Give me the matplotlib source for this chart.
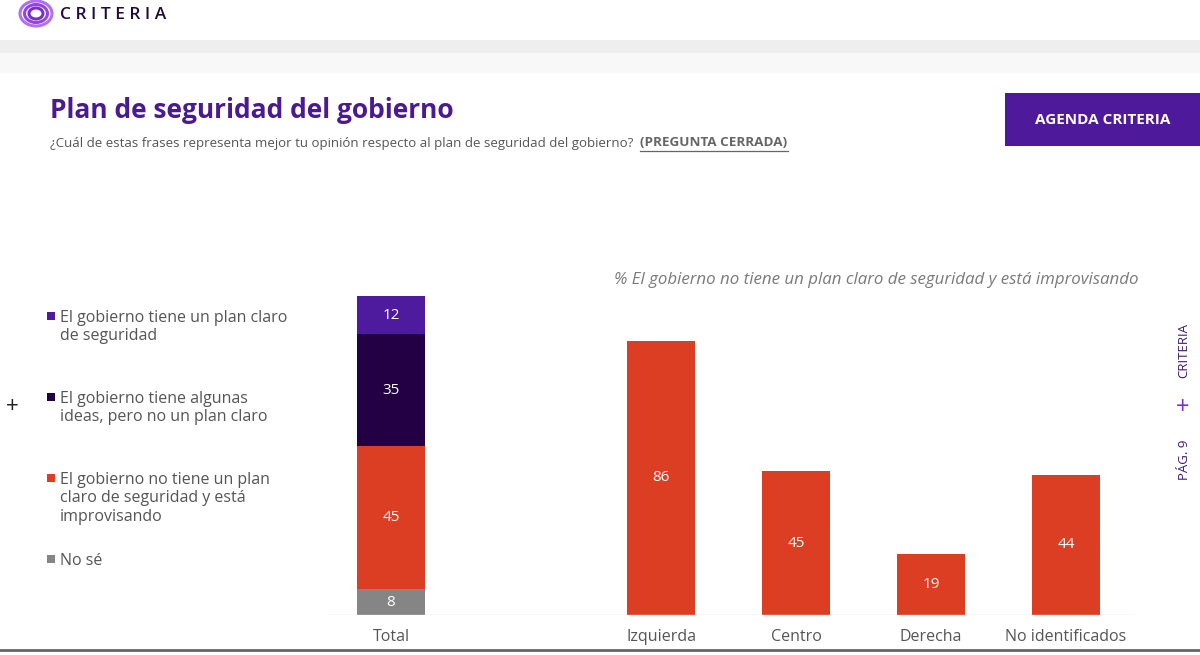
import matplotlib.pyplot as plt
from matplotlib.patches import Rectangle, Ellipse

plt.rcParams['font.family'] = ['Open Sans', 'DejaVu Sans']

# data
total_labels = ['El gobierno tiene un plan claro\nde seguridad',
                'El gobierno tiene algunas\nideas, pero no un plan claro',
                'El gobierno no tiene un plan\nclaro de seguridad y está\nimprovisando',
                'No sé']
total_values = [12, 35, 45, 8]          # top -> bottom
seg_colors = ['#4E1A9E', '#230044', '#DB3E22', '#858585']

groups = ['Izquierda', 'Centro', 'Derecha', 'No identificados']
group_values = [86, 45, 19, 44]

W, H = 1200, 655
fig = plt.figure(figsize=(W / 100, H / 100), dpi=100)
fig.patch.set_facecolor('white')

# overlay in pixel coords for decorations
bg = fig.add_axes([0, 0, 1, 1])
bg.set_xlim(0, W)
bg.set_ylim(H, 0)
bg.axis('off')

# header
bg.add_patch(Rectangle((0, 40), W, 13, color='#EEEEEE', lw=0))
bg.add_patch(Rectangle((0, 53), W, 20, color='#F8F8F8', lw=0))
for (w, h), c in zip([(32, 25), (23, 18), (14, 11)], ['#B070F0', '#9345E0', '#7A30C8']):
    bg.add_patch(Ellipse((36, 13.5), w, h, fill=False, ec=c, lw=2.2))
bg.text(60, 15, 'C R I T E R I A', fontsize=12.5, color='#1E0A3C', fontweight='semibold',
        va='center', ha='left')

bg.text(50, 110, 'Plan de seguridad del gobierno', fontsize=19, fontweight='bold',
        color='#4A1A91', va='center', ha='left')
bg.text(50, 143, '¿Cuál de estas frases representa mejor tu opinión respecto al plan de seguridad del gobierno?',
        fontsize=9.55, color='#555555', va='center', ha='left')
bg.text(640, 143, '(PREGUNTA CERRADA)', fontsize=9.7, color='#666666', fontweight='bold',
        va='center', ha='left')
bg.plot([640, 788], [151, 151], color='#666666', lw=0.9)

bg.add_patch(Rectangle((1005, 93), 200, 53, color='#4E1A9B', lw=0))
bg.text(1103, 120, 'AGENDA CRITERIA', fontsize=11, fontweight='bold', color='white',
        va='center', ha='center')

bg.text(1138, 280, '% El gobierno no tiene un plan claro de seguridad y está improvisando',
        fontsize=12.2, style='italic', color='#7A7A7A', va='center', ha='right')

# side marks
bg.text(12, 407, '+', fontsize=16, color='#222222', va='center', ha='center')
bg.text(1184, 350, 'CRITERIA', fontsize=9.5, rotation=90, color='#3B1A6B',
        va='center', ha='center')
bg.text(1183, 408, '+', fontsize=17, color='#7B2FD0', va='center', ha='center')
bg.text(1184, 460, 'PÁG. 9', fontsize=9.5, rotation=90, color='#3B1A6B',
        va='center', ha='center')

bg.plot([0, W], [650, 650], color='#666666', lw=2)

# legend
leg_y = [316, 397, 478, 559]
for lab, col, y in zip(total_labels, seg_colors, leg_y):
    bg.add_patch(Rectangle((47, y - 4), 8, 8, color=col, lw=0))
    bg.text(60, y - 6, lab, fontsize=11.5, color='#555555', va='top', ha='left',
            linespacing=1.2)

# chart axes: x unit = 135 px, baseline at y=615, 100 units = 319 px
x0, x1 = 325, 1135
ax = fig.add_axes([x0 / W, (H - 615) / H, (x1 - x0) / W, 319 / H])
ax.set_xlim((x0 - 391) / 135, (x1 - 391) / 135)
ax.set_ylim(0, 100)
ax.axis('off')
ax.patch.set_alpha(0)

bw = 0.5
bottom = 0
for v, col in zip(total_values[::-1], seg_colors[::-1]):
    ax.bar(0, v, bw, bottom=bottom, color=col, lw=0)
    ax.text(0, bottom + v / 2, str(v), color='white', fontsize=11,
            ha='center', va='center')
    bottom += v

gx = [2, 3, 4, 5]
ax.bar(gx, group_values, bw, color='#DB3E22', lw=0)
for x, v in zip(gx, group_values):
    ax.text(x, v / 2, str(v), color='white', fontsize=11, ha='center', va='center')

ax.axhline(0, color='#DDDDDD', lw=1)
for x, lab in zip([0] + gx, ['Total'] + groups):
    ax.text(x, -7, lab, fontsize=11.5, color='#555555', ha='center', va='center')

fig.savefig('out.png', dpi=100)
